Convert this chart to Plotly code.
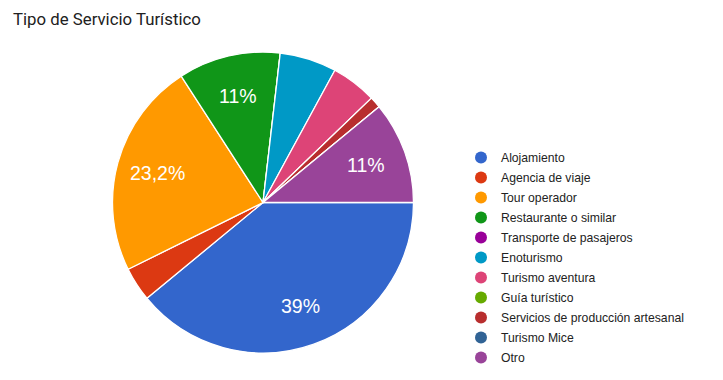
import math
import plotly.graph_objects as go

categories = ["Alojamiento", "Agencia de viaje", "Tour operador", "Restaurante o similar",
              "Transporte de pasajeros", "Enoturismo", "Turismo aventura", "Guía turístico",
              "Servicios de producción artesanal", "Turismo Mice", "Otro"]
counts = [32, 3, 19, 9, 0, 5, 4, 0, 1, 0, 9]
colors = ["#3366cc", "#dc3912", "#ff9900", "#109618", "#990099", "#0099c6",
          "#dd4477", "#66aa00", "#b82e2e", "#316395", "#994499"]
shown_labels = {"Alojamiento": "39%", "Tour operador": "23,2%",
                "Restaurante o similar": "11%", "Otro": "11%"}

# page body has an 8px margin; figure sized to fit the window
OFF = 8
W, H = 723 - OFF, 380 - OFF
px0, px1, py0, py1 = 112 - OFF, 414 - OFF, 52 - OFF, 353 - OFF
cx, cy = (px0 + px1) / 2, (py0 + py1) / 2
R = min(px1 - px0, py1 - py0) / 2
START = 90  # degrees clockwise from 12 o'clock

fig = go.Figure()
fig.add_trace(go.Pie(
    labels=categories, values=counts, sort=False, direction="clockwise", rotation=START,
    marker=dict(colors=colors, line=dict(color="white", width=1.3)),
    textinfo="none", showlegend=False, hoverinfo="label+percent",
    domain=dict(x=[px0 / W, px1 / W], y=[1 - py1 / H, 1 - py0 / H]),
))

# slice labels placed at the slice mid-angle, computed from the data
total = sum(counts)
cum = 0
for c, v in zip(categories, counts):
    mid = START + (cum + v / 2) / total * 360
    cum += v
    if c in shown_labels:
        a = math.radians(mid)
        x = cx + 0.73 * R * math.sin(a)
        y = cy - 0.73 * R * math.cos(a)
        fig.add_annotation(x=x / W, y=1 - y / H, xref="paper", yref="paper",
                           xanchor="center", yanchor="middle",
                           text=shown_labels[c], showarrow=False,
                           font=dict(color="white", size=19.5, family="Liberation Sans, Arial"))

for c, col in zip(categories, colors):
    fig.add_trace(go.Scatter(x=[None], y=[None], mode="markers", name=c, legendgroup=c,
                             marker=dict(color=col, size=12, symbol="circle")))

fig.update_layout(
    width=W, height=H, margin=dict(l=0, r=0, t=0, b=0),
    paper_bgcolor="white", plot_bgcolor="white",
    xaxis=dict(visible=False), yaxis=dict(visible=False),
    title=dict(text="Tipo de Servicio Turístico", x=5 / W, xanchor="left",
               y=1 - 11 / H, yanchor="middle",
               font=dict(family="Roboto", size=16.8, color="#212121")),
    legend=dict(x=453 / W, xanchor="left", y=1 - 135 / H, yanchor="top",
                font=dict(family="Liberation Sans, Arial", size=12.2, color="#222222"),
                itemclick=False, tracegroupgap=1, bgcolor="rgba(0,0,0,0)"),
)
fig.write_html("out.html")
